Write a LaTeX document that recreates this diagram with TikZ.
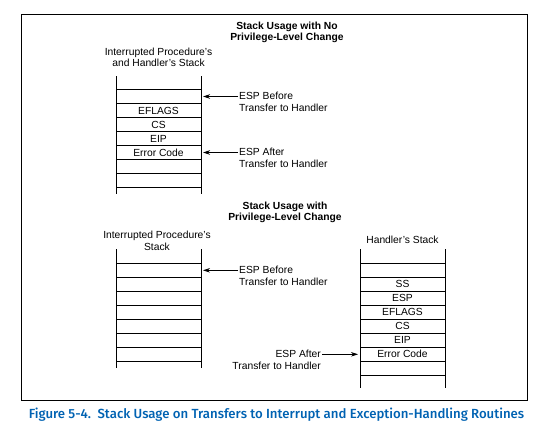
\documentclass[tikz,border=0pt]{standalone}
\usepackage{fontspec}
\setmainfont{Liberation Sans}
\newfontfamily\capfont{Fira Sans}[UprightFont={* Medium}]
\usetikzlibrary{arrows.meta}
\definecolor{capblue}{RGB}{0,98,178}
\tikzset{
  lbl/.style={font=\fontsize{10.3}{11.6}\selectfont, inner sep=0pt},
  ttl/.style={lbl, font=\fontsize{10.3}{11.6}\selectfont\bfseries, align=center},
  ptr/.style={-{Stealth[length=7pt,width=4.5pt]}, line width=0.7pt}
}
\begin{document}
\begin{tikzpicture}[x=1pt,y=-1pt]
\useasboundingbox (0,0) rectangle (556,434);
% outer frame
\draw[line width=0.8pt] (21,14) rectangle (527,400);
% ---- no privilege-level change ----
\node[ttl] (ttlA) at (287,32.5) {Stack Usage with No\\Privilege-Level Change};
\node[lbl, align=center] (hdA) at (158.5,57.5) {Interrupted Procedure's\\and Handler's Stack};
% stack: sides and slot lines
\draw (116,76) -- (116,194) (201,76) -- (201,194);
\foreach \y in {89.5,103.5,...,187.5} \draw (116,\y) -- (201,\y);
\coordinate (stkA) at (203,0);
\foreach \t/\y in {EFLAGS/110.5,CS/124.5,EIP/138.5,Error Code/152.5}
  \node[lbl] at (158.5,\y) {\t};
\node[lbl, align=left, anchor=north west] (espA1) at (239,92.3) {ESP Before\\Transfer to Handler};
\node[lbl, align=left, anchor=north west] (espA2) at (239,148.3) {ESP After\\Transfer to Handler};
\draw[ptr] ([xshift=-1pt,yshift=-4.2pt]espA1.north west) -- ([yshift=-4.2pt]espA1.north west -| stkA);
\draw[ptr] ([xshift=-1pt,yshift=-4.2pt]espA2.north west) -- ([yshift=-4.2pt]espA2.north west -| stkA);
% ---- with privilege-level change ----
\node[ttl] (ttlB) at (285,212.5) {Stack Usage with\\Privilege-Level Change};
\node[lbl, align=center] (hdB) at (157,241) {Interrupted Procedure's\\Stack};
\node[lbl] (hdC) at (402.5,240) {Handler's Stack};
% interrupted procedure's stack
\draw (116,249) -- (116,368) (201,249) -- (201,368);
\foreach \y in {263.3,277.3,...,361.3} \draw (116,\y) -- (201,\y);
\coordinate (stkB) at (203,0);
% handler's stack
\draw (360,249) -- (360,388) (445,249) -- (445,388);
\foreach \y in {263.3,277.3,...,375.3} \draw (360,\y) -- (445,\y);
\coordinate (stkC) at (358,0);
\foreach \t/\y in {SS/284.3,ESP/298.3,EFLAGS/312.3,CS/326.3,EIP/340.3,Error Code/354.3}
  \node[lbl] at (402.5,\y) {\t};
\node[lbl, align=left, anchor=north west] (espB1) at (239,266.1) {ESP Before\\Transfer to Handler};
\node[lbl, align=right, anchor=north east] (espC2) at (321,350.1) {ESP After\\Transfer to Handler};
\draw[ptr] ([xshift=-1pt,yshift=-4.2pt]espB1.north west) -- ([yshift=-4.2pt]espB1.north west -| stkB);
\draw[ptr] ([xshift=1pt,yshift=-4.2pt]espC2.north east) -- ([yshift=-4.2pt]espC2.north east -| stkC);
% caption
\node[inner sep=0pt, text=capblue, font=\capfont\fontsize{13.2}{16}\selectfont] (cap) at (276.5,414.5)
  {Figure 5-4.\ \ Stack Usage on Transfers to Interrupt and Exception-Handling Routines};
\end{tikzpicture}
\end{document}
